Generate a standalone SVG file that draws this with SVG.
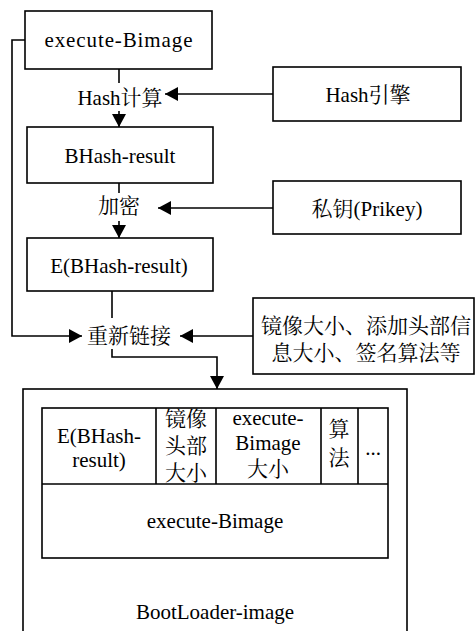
<svg xmlns="http://www.w3.org/2000/svg" width="475" height="631" viewBox="0 0 475 631">
<defs>
<marker id="ah" markerUnits="userSpaceOnUse" markerWidth="14" markerHeight="14" viewBox="0 0 14 14" refX="13" refY="7" orient="auto">
<path d="M0,0 L13,7 L0,14 Z" fill="#000" stroke="none"/>
</marker>
</defs>
<g id="connectors" fill="none" stroke="#000" stroke-width="1.6">
<path d="M25,40 H12 V336 H82" marker-end="url(#ah)"/>
<path d="M119,69 V83"/>
<path d="M119,111 V127" marker-end="url(#ah)"/>
<path d="M273,94 H165" marker-end="url(#ah)"/>
<path d="M119,183 V193"/>
<path d="M119,221 V238" marker-end="url(#ah)"/>
<path d="M273,208 H158" marker-end="url(#ah)"/>
<path d="M112,291 V318"/>
<path d="M112,349 V357 H217 V389" marker-end="url(#ah)"/>
<path d="M253,336 H180" marker-end="url(#ah)"/>
</g>
<g fill="#fff" stroke="#000" stroke-width="1.6">
<rect id="execute-bimage-box" x="25" y="11" width="187" height="58"/>
<rect id="hash-engine-box" x="273" y="67" width="188" height="54"/>
<rect id="bhash-result-box" x="27" y="127" width="186" height="56"/>
<rect id="prikey-box" x="273" y="181" width="188" height="53"/>
<rect id="e-bhash-box" x="27" y="238" width="186" height="53"/>
<rect id="info-box" x="253" y="298" width="221" height="76"/>
<rect id="bootloader-box" x="23" y="389" width="384" height="260"/>
<rect id="table-box" x="42" y="408" width="346" height="150"/>
<path fill="none" d="M42,484 H388 M156,408 V484 M216,408 V484 M321,408 V484 M358,408 V484"/>
</g>
<g font-size="21" text-anchor="middle" fill="#000" stroke="none">
<g id="execute-bimage"><text x="118.5" y="47" textLength="148" lengthAdjust="spacing" font-family="Liberation Serif">execute-Bimage</text></g>
<g id="hash-calc"><text x="120" y="105" font-family="Liberation Serif">Hash<tspan font-family="Noto Serif CJK SC">计算</tspan></text></g>
<g id="hash-engine"><text x="368" y="102" font-family="Liberation Serif">Hash<tspan font-family="Noto Serif CJK SC">引擎</tspan></text></g>
<g id="bhash-result"><text x="120" y="163" font-family="Liberation Serif">BHash-result</text></g>
<g id="encrypt"><text x="119" y="213" font-family="Noto Serif CJK SC">加密</text></g>
<g id="prikey"><text x="367" y="216" font-family="Liberation Serif"><tspan font-family="Noto Serif CJK SC">私钥</tspan>(Prikey)</text></g>
<g id="e-bhash"><text x="119" y="273" font-family="Liberation Serif">E(BHash-result)</text></g>
<g id="relink"><text x="129" y="343" font-family="Noto Serif CJK SC">重新链接</text></g>
<g id="info">
<text x="366" y="333" font-family="Noto Serif CJK SC">镜像大小、添加头部信</text>
<text x="366" y="360" font-family="Noto Serif CJK SC">息大小、签名算法等</text>
</g>
<g id="bootloader-image">
<text x="99" y="443" font-family="Liberation Serif">E(BHash-</text>
<text x="99" y="467" font-family="Liberation Serif">result)</text>
<text x="186" y="426" font-family="Noto Serif CJK SC">镜像</text>
<text x="186" y="453" font-family="Noto Serif CJK SC">头部</text>
<text x="186" y="480" font-family="Noto Serif CJK SC">大小</text>
<text x="268" y="425" font-family="Liberation Serif">execute-</text>
<text x="268" y="450" font-family="Liberation Serif">Bimage</text>
<text x="268" y="476" font-family="Noto Serif CJK SC">大小</text>
<text x="339" y="436" font-family="Noto Serif CJK SC">算</text>
<text x="339" y="465" font-family="Noto Serif CJK SC">法</text>
<text x="373" y="455" font-family="Liberation Serif">...</text>
<text x="215" y="528" font-family="Liberation Serif">execute-Bimage</text>
<text x="215" y="619" font-family="Liberation Serif">BootLoader-image</text>
</g>
</g>
</svg>
